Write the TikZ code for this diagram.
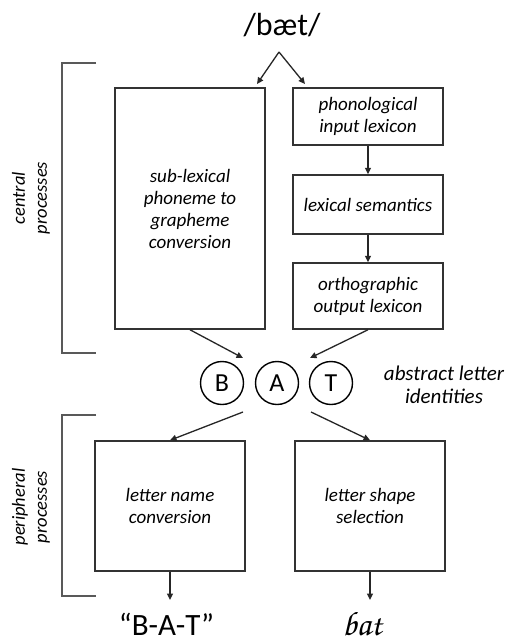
\documentclass[tikz,border=0pt]{standalone}
\usepackage{fontspec}
\setmainfont{Carlito}
\usetikzlibrary{arrows.meta}
\begin{document}
\begin{tikzpicture}[x=1pt,y=-1pt,
  box/.style={draw=black!80, line width=1.5pt, minimum width=150pt, inner sep=0pt, align=center, font=\fontsize{19}{22}\selectfont\itshape},
  arr/.style={draw=black!85, line width=1.3pt, -{Triangle[length=6.5pt,width=6pt]}},
  brk/.style={draw=black!65, line width=1.4pt},
  lett/.style={draw=black, circle, line width=1.4pt, minimum size=43pt, inner sep=0pt, font=\fontsize{26}{26}\selectfont},
  side/.style={rotate=90, align=center, font=\fontsize{18.5}{22}\selectfont\itshape},
  big/.style={inner sep=0pt, anchor=base}]
\useasboundingbox[fill=white] (0,0) rectangle (508,642);

% top input
\node[big, font=\fontsize{32}{32}\selectfont] (ipa) at (282,36) {/bæt/};
\coordinate (apex) at (279,52);
\coordinate (e1) at (257,84);
\coordinate (e2) at (305,84);

% central boxes
\node[box, minimum height=241pt] (sub) at (190,208.5) {sub-lexical\\phoneme to\\grapheme\\conversion};
\node[box, minimum height=57pt] (phon) at (368,116.5) {phonological\\input lexicon};
\node[box, minimum height=59pt] (sem) at (368,204.5) {lexical semantics};
\node[box, minimum height=66pt] (orth) at (368,296) {orthographic\\output lexicon};

% letters
\node[lett] (B) at (222,383) {B};
\node[lett] (A) at (277,383) {A};
\node[lett] (T) at (331,383) {T};
\node[align=center, inner sep=0pt, font=\fontsize{21}{23}\selectfont\itshape] (ali) at (444,385) {abstract letter\\identities};

% peripheral boxes
\node[box, minimum height=130pt] (lname) at (170,506) {letter name\\conversion};
\node[box, minimum height=130pt] (lshape) at (370,506) {letter shape\\selection};

% outputs
\node[big, font=\fontsize{31}{31}\selectfont] (spoken) at (166.5,635) {“B-A-T”};
\node[big, font=\fontencoding{OT1}\fontfamily{pzc}\fontseries{mb}\fontshape{it}\fontsize{34}{34}\selectfont] (written) at (362,635) {bat};

% side brackets
\draw[brk] (96,63) -- (62,63) -- (62,353) -- (96,353);
\draw[brk] (96,415) -- (62,415) -- (62,596) -- (96,596);
\node[side] (central) at (31,198) {central\\processes};
\node[side] (periph) at (31,507) {peripheral\\processes};

% connectors
\draw[arr] (apex) -- (e1);
\draw[arr] (apex) -- (e2);
\draw[arr] (phon.south) -- (sem.north);
\draw[arr] (sem.south) -- (orth.north);
\coordinate (c1) at (243,358);
\coordinate (c2) at (310,358);
\draw[arr] (sub.south) -- (c1);
\draw[arr] (orth.south) -- (c2);
\coordinate (d1) at (243,412);
\coordinate (d2) at (311,412);
\draw[arr] (d1) -- (lname.north);
\draw[arr] (d2) -- (lshape.north);
\coordinate (o1) at (170,600);
\coordinate (o2) at (370,600);
\draw[arr] (lname.south) -- (o1);
\draw[arr] (lshape.south) -- (o2);
\end{tikzpicture}
\end{document}
